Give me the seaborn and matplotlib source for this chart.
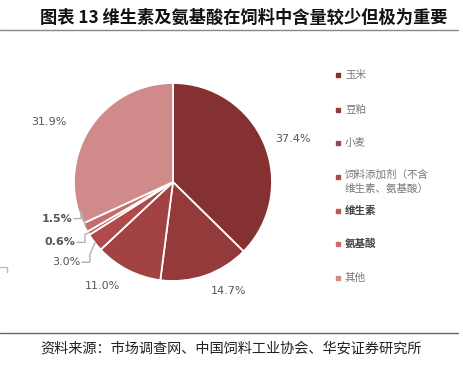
import numpy as np
import matplotlib
matplotlib.use("Agg")
import matplotlib.pyplot as plt
from matplotlib.patches import Rectangle
from matplotlib.lines import Line2D
import seaborn as sns

# data
categories = ["玉米", "豆粕", "小麦", "饲料添加剂（不含\n维生素、氨基酸）", "维生素", "氨基酸", "其他"]
shares = [37.4, 14.7, 11.0, 3.0, 0.6, 1.5, 31.9]
pct_labels = ["37.4%", "14.7%", "11.0%", "3.0%", "0.6%", "1.5%", "31.9%"]
colors = ["#853131", "#943a3a", "#a24242", "#b04a4a", "#bc5656", "#c56c6c", "#d08a8a"]

sns.set_theme(style="white")
plt.rcParams['font.family'] = ['Noto Sans CJK SC', 'DejaVu Sans']

W, H = 464, 367
fig = plt.figure(figsize=(W / 100, H / 100), dpi=100)

# pie axis: centre (173,182) px, radius 99 px
cx, cy, r = 173, 182, 99
ax = fig.add_axes([(cx - r) / W, (H - cy - r) / H, 2 * r / W, 2 * r / H])
wedges, _ = ax.pie(shares, colors=colors, startangle=90, counterclock=False,
                   wedgeprops=dict(edgecolor="white", linewidth=1.3))
ax.set_xlim(-1, 1)
ax.set_ylim(-1, 1)
ax.set_aspect("equal")
ax.axis("off")

txt_col = "#555555"
# big slices: labels outside
label_r = {0: 1.12, 1: 1.17, 2: 1.18, 6: 1.28}
for i, rr in label_r.items():
    w = wedges[i]
    ang = np.deg2rad((w.theta1 + w.theta2) / 2)
    c, s = np.cos(ang), np.sin(ang)
    ha = "left" if c > 0.2 else ("right" if c < -0.2 else "center")
    ax.text(rr * c, rr * s - (0.08 if i == 6 else 0), pct_labels[i], ha=ha, va="center",
            fontsize=8, color=txt_col, family="DejaVu Sans", clip_on=False)

# small slices: labels at left with leader lines
small = {3: (-0.94, -0.81, -0.84, "normal"),
         4: (-0.99, -0.61, -0.89, "bold"),
         5: (-1.02, -0.37, -0.93, "bold")}
for i, (tx, ty, ex, fw) in small.items():
    w = wedges[i]
    ang = np.deg2rad((w.theta1 + w.theta2) / 2)
    px, py = 0.99 * np.cos(ang), 0.99 * np.sin(ang)
    ax.text(tx, ty, pct_labels[i], ha="right", va="center", fontsize=8,
            color=txt_col, fontweight=fw, family="DejaVu Sans", clip_on=False)
    ax.plot([tx + 0.02, ex, ex, px], [ty, ty, ty + 0.08, py],
            color="#b0b0b0", lw=1, clip_on=False)

# legend (manual)
leg_y = [75, 110, 143, 177, 211, 244, 278]
for name, col, y in zip(categories, colors, leg_y):
    fig.patches.append(Rectangle((336 / W, 1 - (y + 2) / H), 4 / W, 4 / H,
                                 transform=fig.transFigure, color=col))
    bold = name in ("维生素", "氨基酸")
    multi = "\n" in name
    fig.text(345 / W, 1 - (y - 7 if multi else y) / H, name, ha="left",
             va="top" if multi else "center",
             fontsize=7.6, color="#444444" if bold else "#777777",
             fontweight="bold" if bold else "normal", linespacing=1.5)

# title and source
fig.text(40 / W, 1 - 18 / H, "图表 13 维生素及氨基酸在饲料中含量较少但极为重要",
         ha="left", va="center", fontsize=12.4, fontweight="bold", color="#111111")
fig.add_artist(Line2D([0, 458 / W], [1 - 30 / H] * 2, color="#888888", lw=1))
fig.add_artist(Line2D([0, 458 / W], [1 - 333 / H] * 2, color="#666666", lw=1))
fig.add_artist(Line2D([0, 7 / W, 7 / W], [1 - 267 / H, 1 - 267 / H, 1 - 272 / H],
                      color="#bbbbbb", lw=1))
fig.text(40 / W, 1 - 349 / H, "资料来源：市场调查网、中国饲料工业协会、华安证券研究所",
         ha="left", va="center", fontsize=10.2, color="#222222")

fig.savefig("out.png", dpi=100)
